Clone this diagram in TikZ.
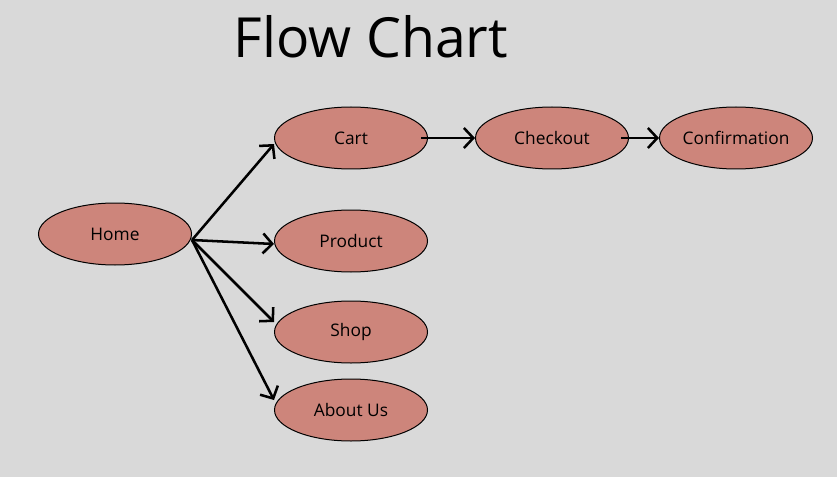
\documentclass[tikz,border=0pt]{standalone}
\usepackage{fontspec}
\setmainfont{Open Sans}
\usetikzlibrary{shapes.geometric,arrows.meta}
\definecolor{bgGray}{RGB}{217,217,217}
\definecolor{pageRed}{RGB}{205,133,123}

\begin{document}
\begin{tikzpicture}[x=0.75pt,y=-0.75pt,
    page/.style={ellipse,draw=black,line width=0.75pt,fill=pageRed,
      minimum width=114.75pt,minimum height=46.5pt,inner sep=0pt,
      font=\fontsize{13}{15}\selectfont},
    link/.style={line width=1.9pt,-{Straight Barb[length=7pt,width=15pt]}}]
        % Background, also fixes the page size
        \fill[bgGray] (0,0) rectangle (837,477);
        % Title
        \node (title) at (371,37) {\fontsize{41.5}{48}\selectfont Flow Chart};
        % Pages
        \node[page] (home) at (115,234) {Home};
        \node[page] (cart) at (351,138) {Cart};
        \node[page] (checkout) at (552,138) {Checkout};
        \node[page] (confirm) at (736,138) {Confirmation};
        \node[page] (product) at (351,241) {Product};
        \node[page] (shop) at (351,332) {Shop};
        \node[page] (about) at (351,410) {About Us};
        % Links out of home
        \foreach \target/\dy in {cart/-4.5pt,product/-2.25pt,shop/7.5pt,about/7.5pt}
          \draw[link] ([yshift=-4.5pt]home.east) -- ([yshift=\dy]\target.west);
        % Checkout path
        \draw[link] ([xshift=-5pt]cart.east) -- (checkout.west);
        \draw[link] ([xshift=-6pt]checkout.east) -- (confirm.west);
    \end{tikzpicture}
\end{document}
